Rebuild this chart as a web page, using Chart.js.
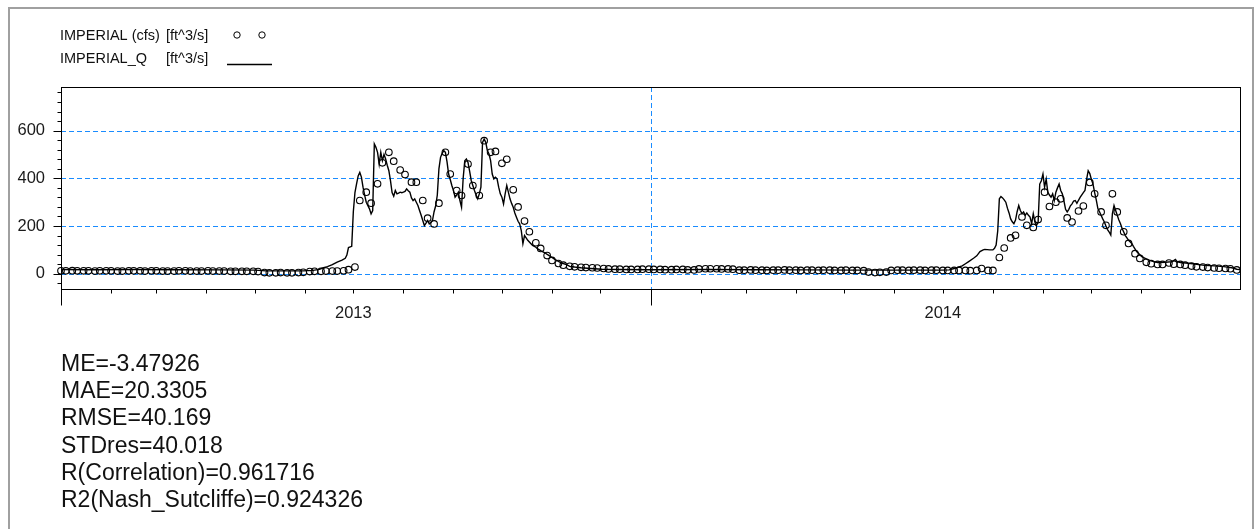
<!DOCTYPE html>
<html>
<head>
<meta charset="utf-8">
<script src="https://cdn.jsdelivr.net/npm/chart.js@4.4.1/dist/chart.umd.min.js"></script>
<style>
  html, body { margin: 0; padding: 0; background: #fff; }
  #wrap { position: relative; width: 1257px; height: 529px; overflow: hidden; background: #fff; }
  #c { position: absolute; left: 0; top: 0; }
  #stats {
    position: absolute; left: 61px; top: 350px;
    font-family: "Liberation Sans", Arial, sans-serif; font-size: 23px; line-height: 27.2px;
    color: #111; white-space: pre;
  }
</style>
</head>
<body>
<div id="wrap">
  <canvas id="c" width="1257" height="529"></canvas>
  <div id="stats"></div>
</div>
<script>
// ---- series names / units ----
const seriesNames = ['IMPERIAL (cfs)', 'IMPERIAL_Q'];
const seriesUnits = ['[ft^3/s]', '[ft^3/s]'];

// ---- axis ----
const startYear = 2013;
const totalDays = 730;
const yLabelValues = [0, 200, 400, 600];

// ---- simulated discharge IMPERIAL_Q (day since 1 Jan 2013, ft^3/s) ----
const simDay = [0, 20, 45, 70, 100, 120, 127, 150, 156, 160, 162, 165, 168, 171, 174, 176, 177, 178, 180,
  181, 182, 183, 184, 185, 186, 187, 188, 189, 191, 192, 193, 194, 195, 196, 197, 198, 199, 200,
  201, 202, 203, 204, 205, 206, 207, 208, 209, 210, 211, 212, 213, 214, 215, 216, 217, 218, 219, 220,
  221, 222, 223, 224, 225, 226, 227, 228, 229, 230, 231, 232, 233, 234, 235, 236, 237, 238, 239, 240,
  241, 242, 243, 244, 245, 246, 247, 248, 249, 250, 251, 252, 253, 254, 255, 256, 257, 258, 259, 260,
  261, 262, 263, 264, 265, 266, 267, 268, 269, 270, 271, 272, 273, 274, 275, 276, 277, 278, 279, 280,
  281, 282, 283, 284, 285, 286, 287, 288, 289, 291, 292, 294, 295, 297, 299, 302, 304, 306, 308, 310,
  313, 315, 318, 322, 328, 335, 345, 365, 400, 430, 460, 490, 520, 545, 550, 553, 555, 558, 560,
  562, 565, 567, 569, 571, 572, 575, 577, 578, 579, 580, 581, 582, 583, 584, 585, 586, 587, 588, 589, 590,
  591, 592, 593, 594, 595, 596, 597, 598, 599, 600, 601, 602, 603, 604, 605, 606, 607, 608, 609, 610,
  611, 612, 613, 614, 615, 616, 617, 618, 619, 620, 621, 622, 623, 624, 625, 626, 627, 628, 629, 630,
  631, 633, 634, 635, 636, 637, 638, 639, 640, 641, 642, 643, 644, 645, 646, 647, 648, 649, 650,
  651, 652, 653, 654, 655, 656, 657, 658, 659, 660, 661, 663, 664, 666, 668, 669, 671, 673, 676, 679,
  684, 688, 690, 691, 693, 698, 702, 708, 714, 720, 725, 728, 730];
const simQ = [18, 17, 18, 17, 16, 15, 12, 12, 14, 18, 24, 30, 38, 49, 57, 65, 78, 110, 115,
  260, 340, 377, 410, 425, 405, 363, 330, 300, 272, 251, 265, 544, 530, 509, 460, 509, 474, 500,
  481, 455, 432, 390, 340, 325, 349, 335, 338, 342, 340, 342, 345, 356, 348, 342, 318, 307, 314, 300,
  286, 265, 245, 223, 202, 212, 223, 209, 215, 223, 260, 285, 330, 440, 488, 505, 516, 509, 470, 418,
  395, 370, 349, 321, 330, 342, 307, 279, 400, 474, 481, 467, 430, 391, 370, 349, 330, 314, 335, 363,
  551, 565, 551, 516, 502, 474, 418, 398, 405, 398, 363, 335, 321, 293, 335, 370, 342, 314, 295, 279,
  255, 237, 220, 209, 181, 126, 160, 150, 140, 126, 119, 111, 105, 97, 90, 77, 68, 59, 52, 45,
  38, 31, 28, 25, 22, 19, 18, 17, 18, 17, 16, 15, 15, 15, 16, 22, 26, 33, 42,
  51, 65, 75, 93, 100, 102, 100, 100, 107, 120, 180, 314, 324, 318, 310, 300, 275, 255, 230, 218, 210,
  225, 260, 286, 265, 252, 259, 245, 255, 245, 238, 210, 252, 217, 203, 217, 376, 390, 418, 363, 397,
  342, 330, 321, 335, 307, 342, 360, 376, 349, 335, 305, 270, 259, 270, 285, 293, 305, 307, 295, 308,
  320, 340, 349, 395, 432, 420, 395, 376, 340, 310, 273, 260, 245, 230, 217, 200, 185, 175, 162,
  252, 286, 265, 245, 225, 210, 190, 175, 160, 150, 140, 127, 115, 93, 80, 72, 65, 58, 52, 47,
  48, 51, 60, 52, 47, 44, 41, 35, 33, 30, 25, 19, 18];

// ---- observed discharge IMPERIAL (cfs), sampled twice a week ----
const obsQ = [12, 12, 13, 12, 12, 12, 11, 12, 12, 12,
  11, 11, 12, 12, 12, 11, 12, 12, 11, 11,
  11, 12, 12, 11, 11, 11, 12, 11, 11, 11,
  10, 10, 10, 10, 10, 9,
  5, 4, 4, 5, 4, 4, 5, 6,
  9, 10, 10, 11,
  11, 11, 12, 17, 28,
  307, 342, 296, 377, 465, 509, 472,
  435, 416, 384, 384, 307, 233, 209, 296, 509, 418,
  349, 328, 460, 370, 328, 558, 509, 513, 463, 480,
  352, 280, 221, 176, 130, 106, 76, 56, 43, 36,
  31, 29, 27, 26, 25, 24, 22, 20, 19, 19,
  18, 18, 18, 19, 19, 18, 18, 17, 17, 18,
  18, 16, 16, 20, 21, 21, 21, 20, 20, 19,
  15, 15, 16, 15, 15, 14, 15, 15, 16, 15,
  15, 14, 15, 15, 14, 15, 15, 14, 14, 15,
  14, 14, 13,
  7, 5, 6, 7,
  14, 15, 15, 14, 15, 15, 14, 15, 15, 14, 14,
  14, 14, 14, 13, 14, 22, 14, 14,
  68, 108, 150, 161, 238, 203, 194, 227, 342, 282,
  300, 314, 234, 217, 263, 284, 383, 335, 259, 203,
  335, 259, 176, 127, 84, 64, 48, 42, 39, 39,
  45, 40, 39, 36, 32, 29, 28, 26, 24, 23,
  22, 21, 16];
// sampling alternates 3- and 4-day gaps
const obsDay = obsQ.map((_, i) => Math.floor(i * 3.5));

// ---- goodness-of-fit statistics ----
const statsLines = [
  'ME=-3.47926',
  'MAE=20.3305',
  'RMSE=40.169',
  'STDres=40.018',
  'R(Correlation)=0.961716',
  'R2(Nash_Sutcliffe)=0.924326'
];

document.getElementById('stats').textContent = statsLines.join('\n');

// month-start days (1 Jan 2013 .. 1 Jan 2015)
const DAY_MS = 86400000;
const t0 = Date.UTC(startYear, 0, 1);
const monthTicks = [];
for (let m = 0; m <= 24; m++) {
  monthTicks.push(Math.round((Date.UTC(startYear, m, 1) - t0) / DAY_MS));
}
const yearStartDays = monthTicks.filter((d, m) => m % 12 === 0 && d < totalDays);
const midYearLabel = {};
monthTicks.forEach((d, m) => { if (m % 12 === 6) midYearLabel[d] = String(startYear + Math.floor(m / 12)); });

const FONT = '"Liberation Sans", Arial, sans-serif';
const GRID_BLUE = '#1a8cff';

const decorPlugin = {
  id: 'decor',
  beforeDatasetsDraw(chart) {
    const { ctx, chartArea: a, scales: { x, y } } = chart;
    ctx.save();
    ctx.strokeStyle = GRID_BLUE;
    ctx.lineWidth = 1;
    ctx.setLineDash([5, 3]);
    yLabelValues.forEach(v => {
      const py = Math.round(y.getPixelForValue(v)) + 0.5;
      ctx.beginPath(); ctx.moveTo(a.left, py); ctx.lineTo(a.right, py); ctx.stroke();
    });
    yearStartDays.filter(d => d > 0).forEach(d => {
      const px = Math.round(x.getPixelForValue(d)) + 0.5;
      ctx.beginPath(); ctx.moveTo(px, a.top); ctx.lineTo(px, a.bottom); ctx.stroke();
    });
    ctx.restore();
  },
  afterDatasetsDraw(chart) {
    const { ctx, chartArea: a, scales: { x, y } } = chart;
    ctx.save();
    ctx.strokeStyle = '#000';
    ctx.lineWidth = 1;
    ctx.setLineDash([]);
    // plot frame
    const L = Math.round(a.left) + 0.5, T = Math.round(a.top) + 0.5;
    const R = Math.round(a.right) + 0.5, B = Math.round(a.bottom) + 0.5;
    ctx.strokeRect(L, T, R - L, B - T);
    // y ticks
    y.ticks.forEach(t => {
      const py = Math.round(y.getPixelForValue(t.value)) + 0.5;
      const len = yLabelValues.includes(t.value) ? 8 : 4;
      ctx.beginPath(); ctx.moveTo(L - len, py); ctx.lineTo(L, py); ctx.stroke();
    });
    // x ticks
    x.ticks.forEach(t => {
      if (t.value >= totalDays) return;
      const px = Math.round(x.getPixelForValue(t.value)) + 0.5;
      const len = yearStartDays.includes(t.value) ? 16 : 4;
      ctx.beginPath(); ctx.moveTo(px, B); ctx.lineTo(px, B + len); ctx.stroke();
    });
    ctx.restore();
  },
  afterDraw(chart) {
    const { ctx } = chart;
    ctx.save();
    // legend
    ctx.fillStyle = '#111';
    ctx.font = '14.5px ' + FONT;
    ctx.textBaseline = 'alphabetic';
    ctx.textAlign = 'left';
    ctx.fillText(seriesNames[0], 60, 40);
    ctx.fillText(seriesUnits[0], 166, 40);
    ctx.fillText(seriesNames[1], 60, 63);
    ctx.fillText(seriesUnits[1], 166, 63);
    ctx.strokeStyle = '#000';
    ctx.lineWidth = 1;
    [237, 262].forEach(cx => { ctx.beginPath(); ctx.arc(cx, 35, 3.2, 0, Math.PI * 2); ctx.stroke(); });
    ctx.lineWidth = 1.3;
    ctx.beginPath(); ctx.moveTo(227, 64.5); ctx.lineTo(272, 64.5); ctx.stroke();
    // outer frame
    ctx.strokeStyle = '#a0a0a0';
    ctx.lineWidth = 2;
    ctx.strokeRect(9, 8, 1244, 540);
    ctx.restore();
  }
};

new Chart(document.getElementById('c'), {
  data: {
    datasets: [
      {
        type: 'line',
        label: seriesNames[0] + ' ' + seriesUnits[0],
        data: obsDay.map((d, i) => ({ x: d, y: obsQ[i] })),
        showLine: false,
        pointStyle: 'circle',
        pointRadius: 3.3,
        pointBorderWidth: 1.1,
        pointBorderColor: '#000',
        pointBackgroundColor: 'rgba(0,0,0,0)',
        borderColor: '#000',
        clip: false
      },
      {
        type: 'line',
        label: seriesNames[1] + ' ' + seriesUnits[1],
        data: simDay.map((d, i) => ({ x: d, y: simQ[i] })),
        borderColor: '#000',
        borderWidth: 1.4,
        pointRadius: 0,
        tension: 0,
        fill: false
      }
    ]
  },
  options: {
    responsive: false,
    devicePixelRatio: 1,
    animation: false,
    events: [],
    layout: { padding: { left: 0, top: 87, right: 17, bottom: 200 } },
    plugins: { legend: { display: false }, tooltip: { enabled: false } },
    scales: {
      x: {
        type: 'linear',
        min: 0,
        max: totalDays,
        grid: { display: false, drawTicks: false },
        border: { display: false },
        afterBuildTicks: s => { s.ticks = monthTicks.map(v => ({ value: v })); },
        afterFit: s => { s.height = 40; },
        ticks: {
          autoSkip: false,
          maxRotation: 0,
          padding: 15,
          color: '#1a1a1a',
          font: { family: FONT, size: 16.5 },
          callback: v => midYearLabel[v] || ''
        }
      },
      y: {
        type: 'linear',
        min: -64,
        max: 783,
        grid: { display: false, drawTicks: false },
        border: { display: false },
        afterBuildTicks: s => {
          const t = [];
          for (let v = -40; v <= 760; v += 40) t.push({ value: v });
          s.ticks = t;
        },
        afterFit: s => { s.width = 61; },
        ticks: {
          autoSkip: false,
          padding: 16,
          color: '#1a1a1a',
          font: { family: FONT, size: 16.5 },
          callback: v => (yLabelValues.includes(v) ? String(v) : '')
        }
      }
    }
  },
  plugins: [decorPlugin]
});
</script>
</body>
</html>
